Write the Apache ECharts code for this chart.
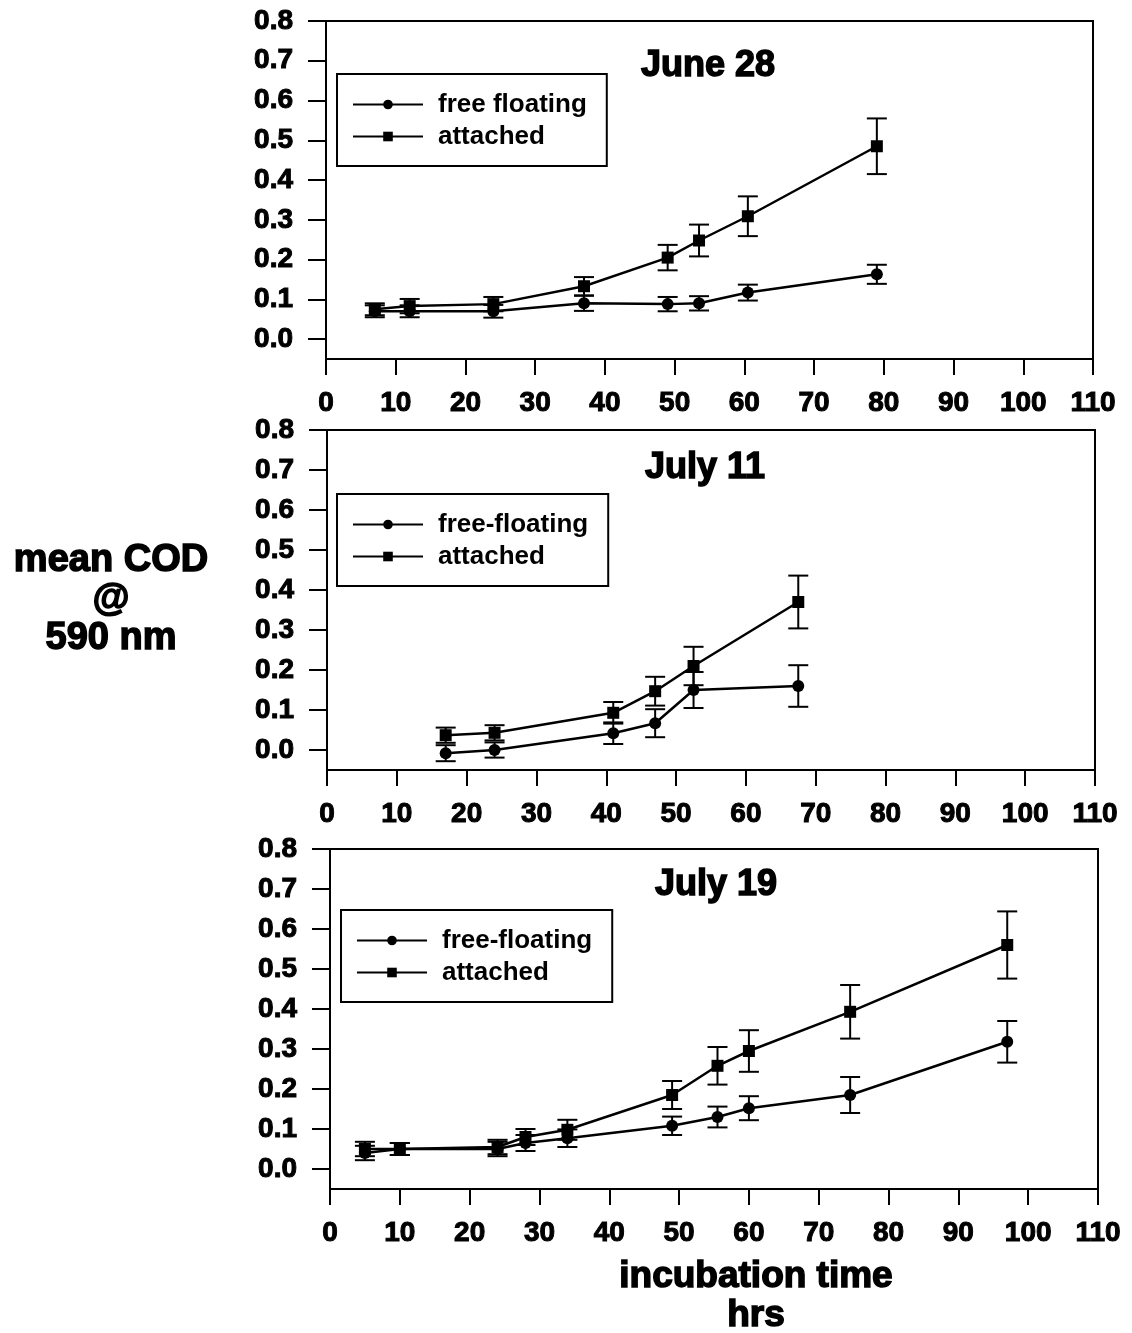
<!DOCTYPE html>
<html>
<head>
<meta charset="utf-8">
<script src="https://cdn.jsdelivr.net/npm/echarts@6/dist/echarts.min.js"></script>
<style>
  html, body { margin: 0; padding: 0; background: #fff; }
  #chart { width: 1132px; height: 1333px; }
</style>
</head>
<body>
<div id="chart"></div>
<script>
// June 28
var t1 = [7, 12, 24, 37, 49, 53.5, 60.5, 79]
var free1 = [0.07, 0.07, 0.07, 0.09, 0.088, 0.09, 0.117, 0.163]
var freeErr1 = [0.015, 0.015, 0.016, 0.019, 0.018, 0.018, 0.02, 0.024]
var att1 = [0.075, 0.083, 0.088, 0.133, 0.205, 0.248, 0.309, 0.485]
var attErr1 = [0.015, 0.018, 0.018, 0.023, 0.032, 0.04, 0.05, 0.07]

// July 11
var t2 = [17, 24, 41, 47, 52.5, 67.5]
var free2 = [-0.008, 0.0, 0.042, 0.067, 0.15, 0.16]
var freeErr2 = [0.02, 0.019, 0.027, 0.035, 0.045, 0.052]
var att2 = [0.037, 0.043, 0.093, 0.147, 0.21, 0.37]
var attErr2 = [0.019, 0.019, 0.027, 0.036, 0.048, 0.066]

// July 19
var t3 = [5, 10, 24, 28, 34, 49, 55.5, 60, 74.5, 97]
var free3 = [0.04, 0.05, 0.05, 0.065, 0.077, 0.108, 0.13, 0.152, 0.185, 0.318]
var freeErr3 = [0.018, 0.015, 0.018, 0.02, 0.022, 0.023, 0.026, 0.03, 0.045, 0.052]
var att3 = [0.05, 0.05, 0.055, 0.08, 0.098, 0.185, 0.258, 0.295, 0.393, 0.56]
var attErr3 = [0.018, 0.015, 0.018, 0.02, 0.025, 0.035, 0.047, 0.052, 0.067, 0.084]

var yTicks = [0, 0.1, 0.2, 0.3, 0.4, 0.5, 0.6, 0.7, 0.8]
var panelTitles = ['June 28', 'July 11', 'July 19']
var freeNames = ['free floating', 'free-floating', 'free-floating']
var attName = 'attached'

var panels = [
    { t: t1, free: free1, freeErr: freeErr1, att: att1, attErr: attErr1 },
    { t: t2, free: free2, freeErr: freeErr2, att: att2, attErr: attErr2 },
    { t: t3, free: free3, freeErr: freeErr3, att: att3, attErr: attErr3 }
]

// pixel layout of the three boxes
var boxes = [
    { left: 326, top: 21, width: 767, height: 338, titleX: 708, titleY: 66, legLeft: 337, legTop: 74 },
    { left: 327, top: 430, width: 768, height: 340, titleX: 705, titleY: 468, legLeft: 337, legTop: 494 },
    { left: 330, top: 849, width: 768, height: 340, titleX: 716, titleY: 885, legLeft: 341, legTop: 910 }
]

var FONT = 'Liberation Sans, Arial, sans-serif'

function pairs(xs, ys) {
    return xs.map(function (x, i) { return [x, ys[i]] })
}

function errRows(xs, ys, es) {
    return xs.map(function (x, i) { return [x, ys[i] - es[i], ys[i] + es[i]] })
}

function renderErrorBar(params, api) {
    var x = api.value(0)
    var lo = api.coord([x, api.value(1)])
    var hi = api.coord([x, api.value(2)])
    var w = 10
    var style = { stroke: '#000', lineWidth: 2 }
    return {
        type: 'group',
        children: [
            { type: 'line', shape: { x1: lo[0], y1: lo[1], x2: hi[0], y2: hi[1] }, style: style },
            { type: 'line', shape: { x1: lo[0] - w, y1: lo[1], x2: lo[0] + w, y2: lo[1] }, style: style },
            { type: 'line', shape: { x1: hi[0] - w, y1: hi[1], x2: hi[0] + w, y2: hi[1] }, style: style }
        ]
    }
}

var grids = [], xAxes = [], yAxes = [], series = [], legends = [], graphics = []

boxes.forEach(function (b, i) {
    var p = panels[i]
    grids.push({
        left: b.left, top: b.top, width: b.width, height: b.height,
        show: true, borderColor: '#000', borderWidth: 2, backgroundColor: '#fff'
    })
    xAxes.push({
        gridIndex: i, type: 'value', min: 0, max: 110, interval: 10,
        splitLine: { show: false },
        axisLine: { onZero: false, lineStyle: { color: '#000', width: 2 } },
        axisTick: { length: 16, lineStyle: { color: '#000', width: 2 } },
        axisLabel: {
            margin: 30, color: '#000', fontSize: 28, fontWeight: 'bold', fontFamily: FONT,
            textBorderColor: '#000', textBorderWidth: 1
        }
    })
    yAxes.push({
        gridIndex: i, type: 'value', min: -0.05, max: 0.8,
        splitLine: { show: false },
        axisLine: { onZero: false, lineStyle: { color: '#000', width: 2 } },
        axisTick: { length: 18, customValues: yTicks, lineStyle: { color: '#000', width: 2 } },
        axisLabel: {
            customValues: yTicks, margin: 33, color: '#000', fontSize: 28, fontWeight: 'bold',
            fontFamily: FONT, textBorderColor: '#000', textBorderWidth: 1,
            formatter: function (v) { return v.toFixed(1) }
        }
    })
    series.push({
        name: 'err' + i, type: 'custom', xAxisIndex: i, yAxisIndex: i,
        renderItem: renderErrorBar, encode: { x: 0, y: [1, 2] },
        data: errRows(p.t, p.free, p.freeErr).concat(errRows(p.t, p.att, p.attErr)),
        z: 1
    })
    series.push({
        name: freeNames[i], type: 'line', xAxisIndex: i, yAxisIndex: i,
        data: pairs(p.t, p.free), symbol: 'circle', symbolSize: 12,
        itemStyle: { color: '#000' }, lineStyle: { color: '#000', width: 2.5 }, z: 3
    })
    series.push({
        name: attName, type: 'line', xAxisIndex: i, yAxisIndex: i,
        data: pairs(p.t, p.att), symbol: 'rect', symbolSize: 12,
        itemStyle: { color: '#000' }, lineStyle: { color: '#000', width: 2.5 }, z: 3
    })
    legends.push({
        data: [freeNames[i], attName], orient: 'vertical',
        left: b.legLeft, top: b.legTop,
        padding: [17, 20, 16, 15], itemGap: 5, itemWidth: 70, itemHeight: 12,
        borderColor: '#000', borderWidth: 2, backgroundColor: '#fff',
        selectedMode: false,
        textStyle: {
            color: '#000', fontSize: 26, fontWeight: 'bold', fontFamily: FONT,
            lineHeight: 27, padding: [0, 0, 0, 10]
        }
    })
    graphics.push({
        type: 'text', x: b.titleX, y: b.titleY, z: 10,
        style: {
            text: panelTitles[i], fill: '#000', font: 'bold 36px ' + FONT,
            stroke: '#000', lineWidth: 1.5, align: 'center', verticalAlign: 'middle'
        }
    })
})

graphics.push({
    type: 'text', x: 111, y: 600,
    style: {
        text: 'mean COD\n@\n590 nm', fill: '#000', font: 'bold 38px ' + FONT,
        stroke: '#000', lineWidth: 1.5, align: 'center', verticalAlign: 'middle', lineHeight: 39
    }
})
graphics.push({
    type: 'text', x: 756, y: 1296,
    style: {
        text: 'incubation time\nhrs', fill: '#000', font: 'bold 37px ' + FONT,
        stroke: '#000', lineWidth: 1.5, align: 'center', verticalAlign: 'middle', lineHeight: 39
    }
})

var chart = echarts.init(document.getElementById('chart'), null, { renderer: 'canvas' })
chart.setOption({
    backgroundColor: '#fff',
    animation: false,
    grid: grids,
    xAxis: xAxes,
    yAxis: yAxes,
    legend: legends,
    series: series,
    graphic: graphics
})
</script>
</body>
</html>
